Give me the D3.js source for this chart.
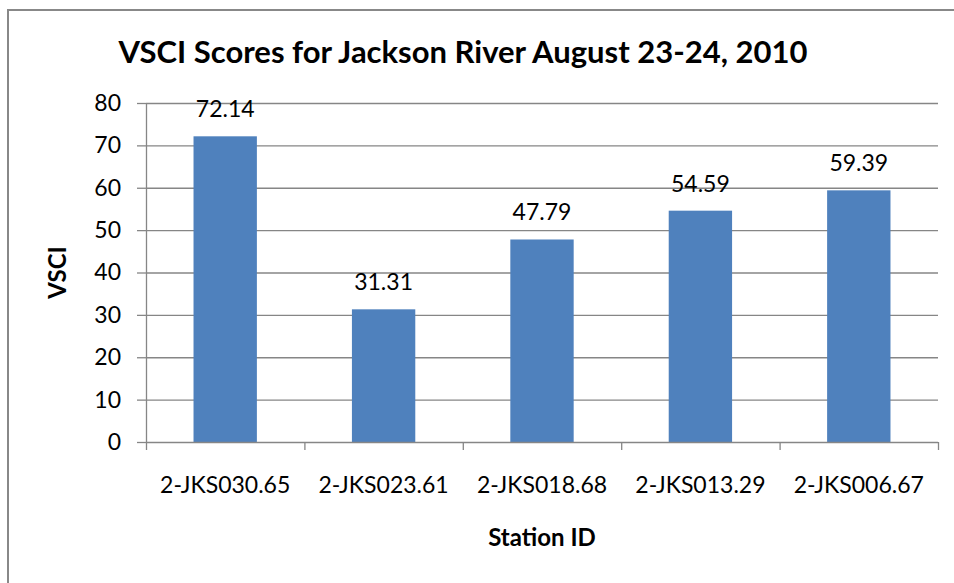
<!DOCTYPE html>
<html>
<head>
<meta charset="utf-8">
<script src="https://cdn.jsdelivr.net/npm/d3@7"></script>
<style>
  html, body { margin: 0; padding: 0; background: #fff; }
  svg { display: block; font-family: Lato, "Open Sans", sans-serif; }
</style>
</head>
<body>
<svg id="chart" width="954" height="583"></svg>
<script>
// Station IDs along the river and their VSCI scores
const stations = ["2-JKS030.65", "2-JKS023.61", "2-JKS018.68", "2-JKS013.29", "2-JKS006.67"];
const vsciScores = [72.14, 31.31, 47.79, 54.59, 59.39];
const yTicks = [0, 10, 20, 30, 40, 50, 60, 70, 80];

const titleText = "VSCI Scores for Jackson River August 23-24, 2010";
const xTitle = "Station ID";
const yTitle = "VSCI";

const svg = d3.select("#chart");
const W = 954, H = 583;
const margin = { top: 103, right: 16, bottom: 141, left: 146 };
const plotW = W - margin.left - margin.right;
const plotH = H - margin.top - margin.bottom;

const gridColor = "#868686";
const barColor = "#4F81BD";
const labelSize = 23;

// outer chart frame
svg.append("rect")
  .attr("x", 8).attr("y", 10)
  .attr("width", W).attr("height", H)
  .attr("fill", "none").attr("stroke", "#888").attr("stroke-width", 2);

const g = svg.append("g").attr("transform", `translate(${margin.left},${margin.top})`);

const x = d3.scaleBand().domain(stations).range([0, plotW]).paddingInner(0.6).paddingOuter(0.3);
const xCat = d3.scaleBand().domain(stations).range([0, plotW]).padding(0);
const y = d3.scaleLinear().domain([0, 80]).range([plotH, 0]);

// horizontal gridlines
g.append("g").selectAll("line").data(yTicks.filter(t => t > 0)).join("line")
  .attr("x1", 0).attr("x2", plotW)
  .attr("y1", d => y(d) + 0.5).attr("y2", d => y(d) + 0.5)
  .attr("stroke", gridColor).attr("stroke-width", 1.3);

// y axis
const yAxis = g.append("g").call(d3.axisLeft(y).tickValues(yTicks).tickSize(9).tickPadding(16).tickFormat(d3.format("d")));
yAxis.select(".domain").attr("stroke", gridColor).attr("stroke-width", 1.3).attr("d", `M0.5,0V${plotH}`);
yAxis.selectAll(".tick line").attr("stroke", gridColor).attr("stroke-width", 1.3);
yAxis.selectAll(".tick text").attr("font-size", labelSize).attr("fill", "#000").attr("font-family", "Lato");

// bars
g.append("g").selectAll("rect").data(vsciScores).join("rect")
  .attr("x", (d, i) => x(stations[i]))
  .attr("width", x.bandwidth())
  .attr("y", d => y(d))
  .attr("height", d => plotH - y(d))
  .attr("fill", barColor);

// value labels
g.append("g").selectAll("text").data(vsciScores).join("text")
  .attr("x", (d, i) => x(stations[i]) + x.bandwidth() / 2)
  .attr("y", d => y(d) - 19)
  .attr("text-anchor", "middle")
  .attr("font-size", labelSize)
  .attr("fill", "#000")
  .text(d => d.toFixed(2));

// x axis line with category boundary ticks
const xAxisG = g.append("g").attr("transform", `translate(0,${plotH})`);
xAxisG.append("line").attr("x1", 0).attr("x2", plotW).attr("y1", 0.5).attr("y2", 0.5)
  .attr("stroke", gridColor).attr("stroke-width", 1.3);
const bounds = stations.map(s => xCat(s)).concat([plotW]);
xAxisG.selectAll("line.tk").data(bounds).join("line").attr("class", "tk")
  .attr("x1", d => d + 0.5).attr("x2", d => d + 0.5)
  .attr("y1", 0).attr("y2", 8)
  .attr("stroke", gridColor).attr("stroke-width", 1.3);
xAxisG.selectAll("text").data(stations).join("text")
  .attr("x", d => xCat(d) + xCat.bandwidth() / 2)
  .attr("y", 51)
  .attr("text-anchor", "middle")
  .attr("font-size", labelSize)
  .attr("fill", "#000")
  .text(d => d);

// titles
svg.append("text")
  .attr("x", 463).attr("y", 63)
  .attr("text-anchor", "middle")
  .attr("font-size", 31).attr("font-weight", "bold")
  .text(titleText);

svg.append("text")
  .attr("x", margin.left + plotW / 2).attr("y", 546)
  .attr("text-anchor", "middle")
  .attr("font-size", 24).attr("font-weight", "bold")
  .text(xTitle);

svg.append("text")
  .attr("transform", `translate(66,${margin.top + plotH / 2}) rotate(-90)`)
  .attr("text-anchor", "middle")
  .attr("font-size", 24).attr("font-weight", "bold")
  .text(yTitle);
</script>
</body>
</html>
